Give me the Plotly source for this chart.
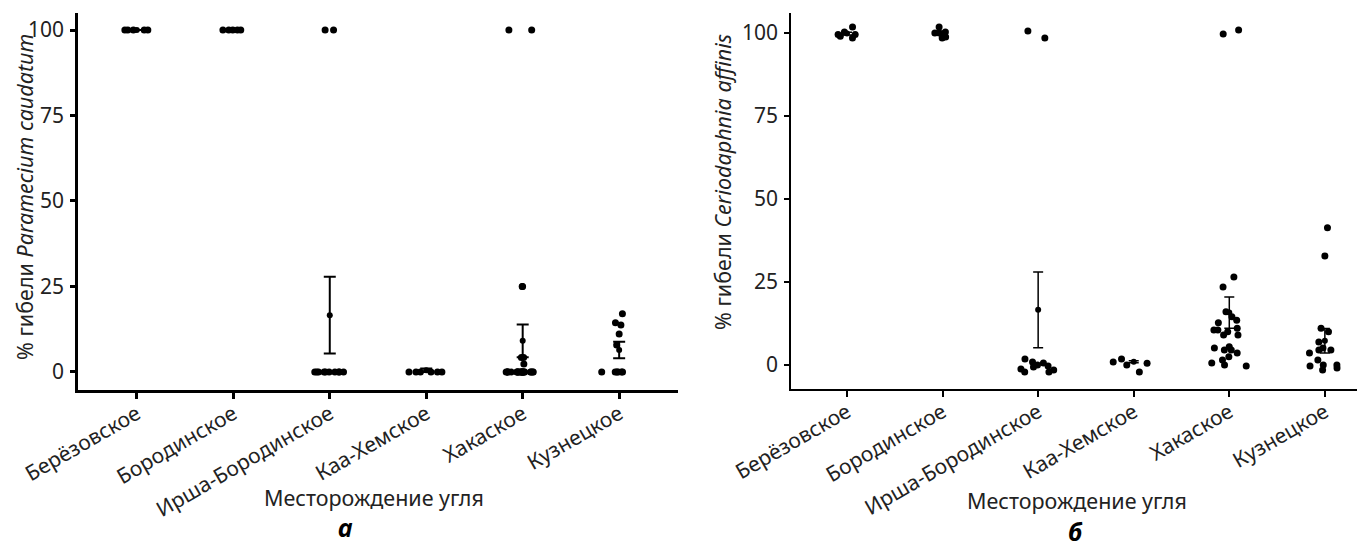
import plotly.graph_objects as go

categories = ["Берёзовское", "Бородинское", "Ирша-Бородинское", "Каа-Хемское", "Хакаское", "Кузнецкое"]

# Panel а: % гибели Paramecium caudatum (individual observations per deposit)
para_values = [
    [100, 100, 100, 100, 100],
    [100, 100, 100, 100, 100],
    [100, 100, 0, 0, 0, 0, 0, 0, 0, 0, 0, 0],
    [0, 0, 0, 0, 0, 0],
    [100, 100, 25, 25, 4.2, 4.2, 2.3] + [0] * 22,
    [17, 14.4, 13.7, 11.1, 7.9, 0, 0, 0, 0, 0, 0],
]
para_mean = [100, 100, 16.6, 0.5, 9.1, 6.4]
para_se = [0, 0, 11.2, 0.5, 4.8, 2.4]

# Panel б: % гибели Ceriodaphnia affinis
cerio_values = [
    [99.5, 99, 98.5, 99.5, 100.3, 101.8],
    [100.3, 100, 100, 98.8, 98.5, 101.8],
    [98.5, 100.6, -2.1, -0.3, -2.1, 0.6, 0.9, -1.5, 0, -0.6, 1.8, -1.2],
    [0.9, 0, 1.8, -2.1, 0.5],
    [100.9, 99.7, 26.5, 23.5, 16, 14.5, 13.5, 12.7, 11.1, 10.5, 10.5, 9, 9, 10,
     4.5, 3.6, 5.1, 4.5, -0.3, 0, 0.6, 1.5, 5.5, 2.5],
    [41.3, 32.8, 11.1, 10, 6.9, 5.1, 4.5, 3.6, 4.5, 1.5, -0.3, 0, -0.9, 0, -1.5],
]
cerio_mean = [99.8, 99.9, 16.6, 1.0, 15.8, 7.3]
cerio_se = [0.4, 0.4, 11.4, 0.3, 4.7, 3.7]

y_ticks = [0, 25, 50, 75, 100]

# the page body keeps the browser's default 8 px margin
PAD = 8
W, H = 1365 - PAD, 554 - PAD
FONT = "Noto Sans"


def px(x):
    return (x - PAD) / W


def py(y):
    return 1 - (y - PAD) / H


def split(values, high):
    """Flatten per-category lists, keeping the upper (~100 %) cluster apart
    so that the strip jitter spreads both clusters evenly."""
    xs, ys = [], []
    for cat, vals in zip(categories, values):
        for v in vals:
            if (v >= 50) == high:
                xs.append(cat)
                ys.append(v)
    return xs, ys


fig = go.Figure()

for values, means, ses, xa, ya, jits, th, cw in [
    (para_values, para_mean, para_se, "x", "y", (0.6, 0.75), 2, 6),
    (cerio_values, cerio_mean, cerio_se, "x2", "y2", (0.45, 0.9), 1.5, 5),
]:
    for high, jit in zip((True, False), jits):
        xs, ys = split(values, high)
        fig.add_trace(go.Box(
            x=xs, y=ys, xaxis=xa, yaxis=ya,
            boxpoints="all", jitter=jit, pointpos=0,
            fillcolor="rgba(0,0,0,0)", line=dict(width=0, color="rgba(0,0,0,0)"),
            whiskerwidth=0,
            marker=dict(color="black", size=7),
            showlegend=False, hoveron="points",
        ))
    fig.add_trace(go.Scatter(
        x=categories, y=means, xaxis=xa, yaxis=ya, mode="markers",
        marker=dict(color="black", size=6),
        error_y=dict(type="data", array=ses, visible=True, color="black",
                     thickness=th, width=cw),
        showlegend=False,
    ))

tickfont = dict(family=FONT, size=21, color="#222")

common_x = dict(type="category", categoryorder="array", categoryarray=categories,
                showline=True, linecolor="black", ticks="outside", ticklen=6,
                tickcolor="black", tickangle=-30, tickfont=tickfont,
                ticklabelstandoff=-5,
                showgrid=False, zeroline=False, automargin=False)
common_y = dict(showline=True, linecolor="black", ticks="outside", ticklen=5,
                tickcolor="black", tickvals=y_ticks, tickfont=tickfont,
                ticklabelstandoff=2,
                showgrid=False, zeroline=False, automargin=False)

fig.update_layout(
    width=W, height=H,
    margin=dict(l=0, r=0, t=0, b=0, autoexpand=False),
    boxmode="overlay",
    plot_bgcolor="white", paper_bgcolor="white",
    xaxis=dict(common_x, domain=[px(78), px(678)], range=[-0.61, 5.61],
               linewidth=2.5, tickwidth=2.5, anchor="y"),
    yaxis=dict(common_y, domain=[py(390), py(13)], range=[-5.3, 105],
               linewidth=2.5, tickwidth=2.5, anchor="x"),
    xaxis2=dict(common_x, domain=[px(791), 1.0], range=[-0.586, 5.42],
                linewidth=1.6, tickwidth=1.6, anchor="y2"),
    yaxis2=dict(common_y, domain=[py(389), py(13)], range=[-7.23, 106],
                linewidth=1.6, tickwidth=1.6, anchor="x2"),
)

ann_font = dict(family=FONT, size=21.5, color="#222")
annotations = [
    dict(text="% гибели <i>Paramecium caudatum</i>", x=px(24), y=py(197),
         textangle=-90, font=ann_font),
    dict(text="% гибели <i>Ceriodaphnia affinis</i>", x=px(722), y=py(182),
         textangle=-90, font=ann_font),
    dict(text="Месторождение угля", x=px(374), y=py(497), font=ann_font),
    dict(text="Месторождение угля", x=px(1077), y=py(500), font=ann_font),
    dict(text="<b><i>а</i></b>", x=px(345), y=py(527),
         font=dict(family=FONT, size=25, color="black")),
    dict(text="<b><i>б</i></b>", x=px(1075), y=py(531),
         font=dict(family=FONT, size=25, color="black")),
]
for a in annotations:
    a.update(xref="paper", yref="paper", showarrow=False, borderpad=0,
             xanchor="center", yanchor="middle")
fig.update_layout(annotations=annotations)

fig.write_html("out.html")
